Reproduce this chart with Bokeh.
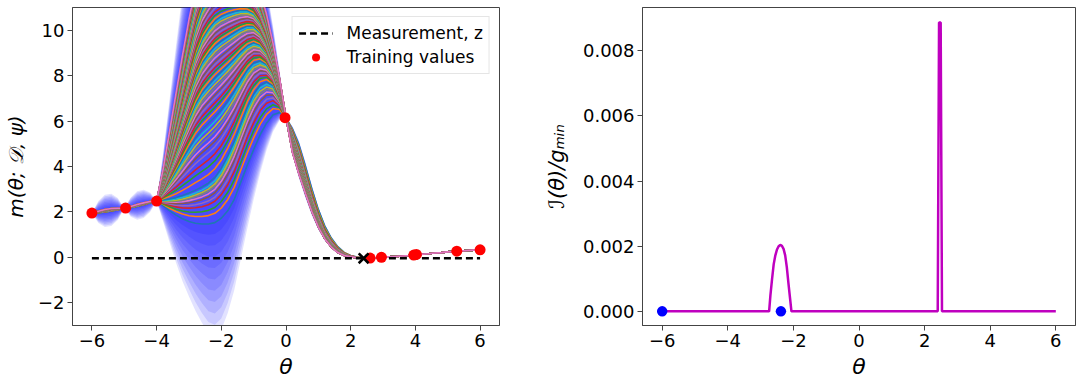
import numpy as np
from bokeh.plotting import figure
from bokeh.layouts import row
from bokeh.models import Legend, LegendItem, CustomJSTickFormatter, FixedTicker, Range1d
from bokeh.embed import file_html
from bokeh.resources import INLINE

# ---------------- data ----------------
theta_grid = np.round(np.linspace(-6.0, 6.0, 61), 2)   # every 0.2

# lowest model curve (blue)
low_curve = [1.95, 1.96, 1.99, 2.03, 2.09, 2.16, 2.19, 2.24, 2.31, 2.40,
             2.48, 2.28, 2.06, 1.86, 1.70, 1.58, 1.50, 1.47, 1.47, 1.53,
             1.72, 2.05, 2.55, 3.30, 4.05, 4.75, 5.40, 5.92, 6.28, 6.38,
             6.15, 5.65, 4.95, 4.00, 3.00, 2.10, 1.38, 0.85, 0.47, 0.22,
             0.08, 0.01, -0.02, -0.03, -0.02, 0.00, 0.02, 0.04, 0.06, 0.08,
             0.11, 0.14, 0.16, 0.19, 0.21, 0.24, 0.26, 0.28, 0.30, 0.32, 0.33]

# a middle model curve (peak about 7.7 near theta = -0.6)
mid_curve = [1.95, 1.99, 2.05, 2.09, 2.12, 2.16, 2.21, 2.28, 2.35, 2.43,
             2.48, 2.52, 2.55, 2.60, 2.68, 2.78, 2.90, 3.03, 3.20, 3.45,
             3.85, 4.40, 5.05, 5.80, 6.55, 7.15, 7.55, 7.70, 7.55, 7.00,
             6.15, 5.30, 4.45, 3.40, 2.40, 1.60, 0.95, 0.55, 0.28, 0.12,
             0.03, -0.01, -0.02, -0.03, -0.02, 0.00, 0.02, 0.04, 0.06, 0.08,
             0.11, 0.14, 0.16, 0.19, 0.21, 0.24, 0.26, 0.28, 0.30, 0.32, 0.33]

# highest model curve (runs off the top of the axes)
top_curve = [1.95, 2.03, 2.11, 2.15, 2.16, 2.16, 2.24, 2.33, 2.40, 2.46,
             2.48, 3.90, 5.60, 7.30, 9.00, 10.60, 12.00, 13.00, 13.60, 14.00,
             14.10, 14.00, 13.80, 13.50, 13.10, 12.60, 11.80, 10.75, 9.45, 7.90,
             6.15, 4.60, 3.65, 2.80, 2.00, 1.33, 0.81, 0.45, 0.21, 0.08,
             0.02, -0.02, -0.02, -0.03, -0.02, 0.00, 0.02, 0.04, 0.06, 0.08,
             0.11, 0.14, 0.16, 0.19, 0.21, 0.24, 0.26, 0.28, 0.30, 0.32, 0.33]

# half width of the blue uncertainty band around the family of curves
band_halfwidth = [0.0, 0.45, 0.65, 0.65, 0.45, 0.0, 0.40, 0.58, 0.58, 0.40,
                  0.0, 0.7, 1.4, 2.1, 2.75, 3.3, 3.85, 4.35, 4.8, 5.0,
                  4.9, 4.5, 4.0, 3.4, 2.8, 2.2, 1.7, 1.2, 0.75, 0.35,
                  0.0, 0.12, 0.18, 0.2, 0.17, 0.12, 0.08, 0.05, 0.03, 0.01,
                  0.0, 0.0, 0.0, 0.0, 0.0, 0.0, 0.0, 0.0, 0.0, 0.0,
                  0.0, 0.0, 0.0, 0.0, 0.0, 0.0, 0.0, 0.0, 0.0, 0.0, 0.0]
band_levels = [0.1, 0.2, 0.3, 0.4, 0.5, 0.6, 0.7, 0.8, 0.9, 1.0]

# peak heights of the plotted model curves
peak_heights = [6.38, 6.55, 6.72, 6.9, 7.02, 7.15, 7.28, 7.4, 7.5, 7.62, 7.72, 7.83,
                7.93, 8.02, 8.12, 8.22, 8.3, 8.4, 8.48, 8.57, 8.65, 8.74, 8.82, 8.9,
                8.98, 9.06, 9.14, 9.22, 9.3, 9.38, 9.45, 9.52, 9.6, 9.68, 9.75, 9.82,
                9.9, 9.97, 10.04, 10.11, 10.18, 10.25, 10.32, 10.39, 10.46, 10.53,
                10.6, 10.67, 10.74, 10.81, 10.88, 10.95, 11.05, 11.17, 11.29, 11.41,
                11.53, 11.65, 11.77, 11.89, 12.01, 12.13, 12.25, 12.37, 12.49, 12.61,
                12.73, 12.85, 12.97, 13.09, 13.21, 13.33, 13.45, 13.57, 13.69, 13.81, 13.93]

train_x = [-6.0, -4.96, -4.0, -0.03, 2.6, 2.95, 3.95, 4.03, 5.28, 6.0]
train_y = [1.95, 2.17, 2.48, 6.15, -0.03, 0.0, 0.10, 0.13, 0.27, 0.33]
z_value = -0.04
z_span = [-6.0, 6.0]
meas_theta = [2.40]

info_theta = [-6.0, -2.74, -2.70, -2.65, -2.60, -2.55, -2.50, -2.45, -2.40, -2.35,
              -2.30, -2.25, -2.20, -2.15, -2.10, -2.06, 2.40, 2.44, 2.49, 2.53, 6.0]
info_value = [0.0, 0.0, 0.0005, 0.0010, 0.00145, 0.00172, 0.00190, 0.00200, 0.00204, 0.00201,
              0.00192, 0.00172, 0.00135, 0.00085, 0.00038, 0.0, 0.0, 0.00887, 0.00887, 0.0, 0.0]
query_theta = [-6.0, -2.38]
query_value = [0.0, 0.0]

left_xticks = [-6, -4, -2, 0, 2, 4, 6]
left_yticks = [-2, 0, 2, 4, 6, 8, 10]
right_yticks = [0.0, 0.002, 0.004, 0.006, 0.008]

tab10 = ["#1f77b4", "#ff7f0e", "#2ca02c", "#d62728", "#9467bd",
         "#8c564b", "#e377c2", "#7f7f7f", "#bcbd22", "#17becf"]

# ---------------- build curve family (blend through the read curves) ----------------
L = np.array(low_curve)
M = np.array(mid_curve)
U = np.array(top_curve)


def member(s):
    if s <= 1.0:
        return L + s * (M - L)
    return M + (s - 1.0) * (U - M)


def s_for_peak(P):
    lo, hi = 0.0, 2.0
    for _ in range(60):
        mid = 0.5 * (lo + hi)
        if np.max(member(mid)) < P:
            lo = mid
        else:
            hi = mid
    return 0.5 * (lo + hi)


curves = np.array([member(s_for_peak(P)) for P in peak_heights])
S = np.array(band_halfwidth)
cmin = curves.min(axis=0)
cmax = curves.max(axis=0)

FONT = "DejaVu Sans"
minus_fmt = CustomJSTickFormatter(code="return (tick < 0 ? '\u2212' : '') + Math.abs(tick).toString();")


def style(p):
    p.xgrid.visible = False
    p.ygrid.visible = False
    p.outline_line_color = "#444444"
    p.outline_line_width = 1
    p.background_fill_color = "white"
    p.border_fill_color = "white"
    for ax in (p.xaxis[0], p.yaxis[0]):
        ax.axis_line_color = "#444444"
        ax.major_tick_line_color = "#444444"
        ax.major_tick_out = 5
        ax.major_tick_in = 0
        ax.minor_tick_out = 0
        ax.minor_tick_in = 0
        ax.major_label_text_font = FONT
        ax.major_label_text_font_size = "18px"
        ax.major_label_text_color = "black"
        ax.major_label_standoff = 3
        ax.axis_label_text_font = FONT
        ax.axis_label_text_font_style = "italic"
        ax.axis_label_text_font_size = "22px"
        ax.axis_label_text_color = "black"


# ---------------- left panel ----------------
p1 = figure(width=540, height=381, output_backend="svg", toolbar_location=None,
            x_range=Range1d(-6.6, 6.6), y_range=Range1d(-3.0, 11.0),
            min_border_left=70, min_border_right=41, min_border_top=7, min_border_bottom=53)
style(p1)

for k in band_levels:
    p1.varea(x=theta_grid, y1=cmin - k * S, y2=cmax + k * S,
             fill_color="#0000ff", fill_alpha=0.115)

xs = [list(theta_grid)] * len(curves)
ys = [list(c) for c in curves]
cols = [tab10[i % 10] for i in range(len(curves))]
p1.multi_line(xs=xs, ys=ys, line_color=cols, line_width=1.6)

r_dash = p1.line(x=z_span, y=[z_value, z_value], line_color="black", line_width=2.3, line_dash="7 4")
r_train = p1.scatter(x=train_x, y=train_y, marker="circle", size=11,
                     fill_color="#ff0000", line_color=None)
p1.scatter(x=meas_theta, y=[z_value], marker="x", size=14, line_color="black", line_width=2.6)

p1.xaxis.ticker = FixedTicker(ticks=left_xticks)
p1.yaxis.ticker = FixedTicker(ticks=left_yticks)
p1.xaxis.formatter = minus_fmt
p1.yaxis.formatter = minus_fmt
p1.xaxis.axis_label = "θ"
p1.yaxis.axis_label = "m(θ; 𝒟, ψ)"
p1.yaxis.axis_label_text_font_size = "20px"
p1.xaxis.axis_label_standoff = 4
p1.yaxis.axis_label_standoff = 7

legend = Legend(items=[LegendItem(label="Measurement, z", renderers=[r_dash]),
                       LegendItem(label="Training values", renderers=[r_train])],
                location="top_right")
legend.label_text_font = FONT
legend.label_text_font_size = "17px"
legend.label_text_color = "black"
legend.border_line_color = "#cccccc"
legend.border_line_width = 1
legend.background_fill_alpha = 0.85
legend.padding = 6
legend.spacing = 4
legend.glyph_width = 34
legend.label_standoff = 14
legend.margin = 9
p1.add_layout(legend)

# ---------------- right panel ----------------
p2 = figure(width=536, height=381, output_backend="svg", toolbar_location=None,
            x_range=Range1d(-6.6, 6.6), y_range=Range1d(-0.000434, 0.00933),
            min_border_left=102, min_border_right=1, min_border_top=3, min_border_bottom=54)
style(p2)
p2.line(x=info_theta, y=info_value, line_color="#bf00bf", line_width=2.5)
p2.scatter(x=query_theta, y=query_value, marker="circle", size=10.5,
           fill_color="#0000ff", line_color=None)
p2.xaxis.ticker = FixedTicker(ticks=left_xticks)
p2.yaxis.ticker = FixedTicker(ticks=right_yticks)
p2.xaxis.formatter = minus_fmt
p2.yaxis.formatter = CustomJSTickFormatter(code="return tick.toFixed(3);")
p2.xaxis.axis_label = "θ"
p2.yaxis.axis_label = "ℐ(θ)/gₘᵢₙ"
p2.yaxis.axis_label_text_font_size = "21px"
p2.xaxis.axis_label_standoff = 4
p2.yaxis.axis_label_standoff = 11

layout = row(p1, p2)
open("out.html", "w").write(file_html(layout, INLINE))
